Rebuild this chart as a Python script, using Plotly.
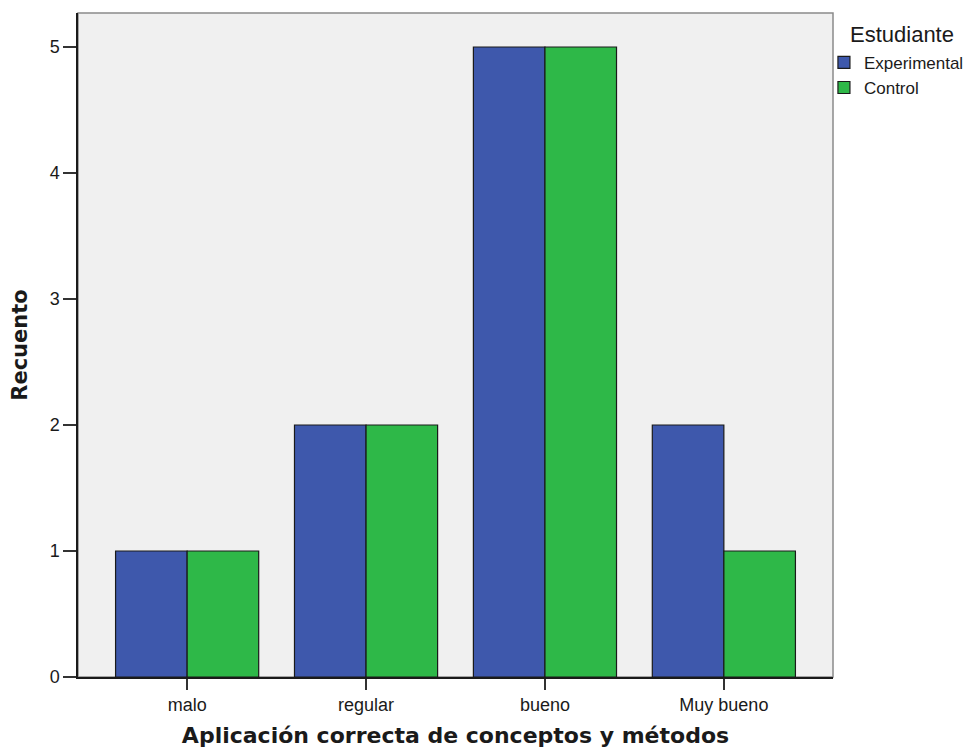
import plotly.graph_objects as go

categories = ["malo", "regular", "bueno", "Muy bueno"]
experimental = [1, 2, 5, 2]
control = [1, 2, 5, 1]
series_names = ["Experimental", "Control"]
legend_title = "Estudiante"
y_ticks = [0, 1, 2, 3, 4, 5]

FONT = "Liberation Sans, Arial, sans-serif"
BOLD_FONT = "DejaVu Sans, Verdana, sans-serif"
INK = "#1a1a1a"

fig = go.Figure()
fig.add_trace(go.Bar(x=categories, y=experimental, name=series_names[0],
                     marker=dict(color="#3e58ac", line=dict(color=INK, width=1.2))))
fig.add_trace(go.Bar(x=categories, y=control, name=series_names[1],
                     marker=dict(color="#2eb848", line=dict(color=INK, width=1.2))))

fig.update_layout(
    width=968, height=743,
    margin=dict(l=70, r=143, t=5, b=74, autoexpand=False),
    paper_bgcolor="white",
    plot_bgcolor="#f0f0f0",
    barmode="group",
    bargap=0.2,
    bargroupgap=0,
    font=dict(family=FONT, size=18, color=INK),
    legend=dict(
        x=0.988, xanchor="left", y=0.952, yanchor="top",
        font=dict(size=17, family=FONT, color=INK),
        bgcolor="rgba(0,0,0,0)",
        tracegroupgap=0,
        itemwidth=30,
    ),
    annotations=[dict(text=legend_title, xref="paper", yref="paper",
                      x=1.0205, y=0.968, xanchor="left", yanchor="middle",
                      showarrow=False, font=dict(size=22, family=FONT, color=INK))],
    shapes=[dict(type="rect", xref="paper", yref="paper", x0=0, y0=0, x1=1, y1=1,
                 line=dict(color="#8a8a8a", width=1.5), layer="below")],
)

fig.update_xaxes(
    range=[-0.61, 3.61],
    showline=True, linecolor=INK, linewidth=1.5,
    ticks="outside", ticklen=11, tickcolor="#333333", tickwidth=1.5,
    showgrid=False, zeroline=False,
    tickfont=dict(size=18, family=FONT, color=INK),
    title=dict(text="<b>Aplicación correcta de conceptos y métodos</b>",
               font=dict(size=22, family=BOLD_FONT, color=INK), standoff=13),
)
fig.update_yaxes(
    range=[0, 5.27],
    tickvals=y_ticks,
    showline=True, linecolor=INK, linewidth=1.5,
    ticks="outside", ticklen=13, tickcolor="#333333", tickwidth=1.5,
    showgrid=False, zeroline=False,
    tickfont=dict(size=18, family=FONT, color=INK),
    title=dict(text="<b>Recuento</b>",
               font=dict(size=21, family=BOLD_FONT, color=INK), standoff=20),
)

fig.write_html("out.html")
